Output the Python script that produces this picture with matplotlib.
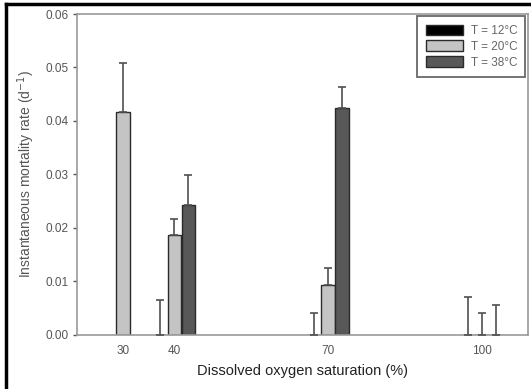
import numpy as np
import matplotlib.pyplot as plt
from matplotlib.lines import Line2D

plt.rcParams['font.family'] = ['Liberation Sans', 'DejaVu Sans']

# oxygen saturation levels (%)
oxygen = np.array([30, 40, 70, 100])
ticklabels = ['30', '40', '70', '100']

# mean mortality rates and upper error (NaN where not tested)
rate_12 = np.array([np.nan, 0.0, 0.0, 0.0])
err_12 = np.array([np.nan, 0.0066, 0.0041, 0.0071])
rate_20 = np.array([0.0416, 0.0186, 0.0094, 0.0])
err_20 = np.array([0.0092, 0.0030, 0.0032, 0.0041])
rate_38 = np.array([np.nan, 0.0243, 0.0425, 0.0])
err_38 = np.array([np.nan, 0.0056, 0.0039, 0.0056])

labels = ['T = 12°C', 'T = 20°C', 'T = 38°C']
colors = ['#000000', '#c4c4c4', '#585858']

fig = plt.figure(figsize=(5.31, 3.89), dpi=100)
ax = fig.add_axes([0.145, 0.139, 0.849, 0.825])

w = 2.6
offsets = [-2.7, 0.0, 2.7]
for rate, err, off, c, lab in zip([rate_12, rate_20, rate_38], [err_12, err_20, err_38],
                                  offsets, colors, labels):
    x = oxygen + off
    ok = ~np.isnan(rate)
    ax.bar(x[ok], rate[ok], width=w, color=c, edgecolor='#2a2a2a', linewidth=1.0, label=lab, zorder=2)
    ax.errorbar(x[ok], rate[ok], yerr=[np.zeros(ok.sum()), err[ok]], fmt='none',
                ecolor='#505050', elinewidth=1.2, capsize=3, capthick=1.2, zorder=3)

ax.set_xlim(21, 109)
ax.set_ylim(0, 0.06)
ax.set_xticks(oxygen)
ax.set_xticklabels(ticklabels)
ax.set_yticks(np.arange(0, 0.061, 0.01))
ax.set_yticklabels(['%.2f' % v for v in np.arange(0, 0.061, 0.01)])
ax.tick_params(axis='x', length=0, pad=7, labelsize=8.5, colors='#555555')
ax.tick_params(axis='y', length=3, width=1, pad=3, labelsize=8.5, colors='#555555', direction='out')
for s in ax.spines.values():
    s.set_color('#999999')
    s.set_linewidth(1.2)

ax.set_xlabel('Dissolved oxygen saturation (%)', fontsize=10.5, color='#222222', labelpad=5)
ax.set_ylabel('Instantaneous mortality rate (d$^{-1}$)', fontsize=10, color='#555555', labelpad=6)

leg = ax.legend(loc='upper right', fontsize=8.5, frameon=True, fancybox=False,
                handlelength=3.2, handleheight=1.0, borderpad=0.7, labelspacing=0.3,
                handletextpad=0.6, borderaxespad=0.2)
leg.get_frame().set_edgecolor('#444444')
leg.get_frame().set_linewidth(1.3)
for t in leg.get_texts():
    t.set_color('#666666')

# page border left and top
fig.add_artist(Line2D([0.011, 0.011], [0, 0.99], transform=fig.transFigure, color='black', lw=2.5))
fig.add_artist(Line2D([0.011, 1.0], [0.99, 0.99], transform=fig.transFigure, color='black', lw=2.5))

fig.savefig('out.png', dpi=100)
